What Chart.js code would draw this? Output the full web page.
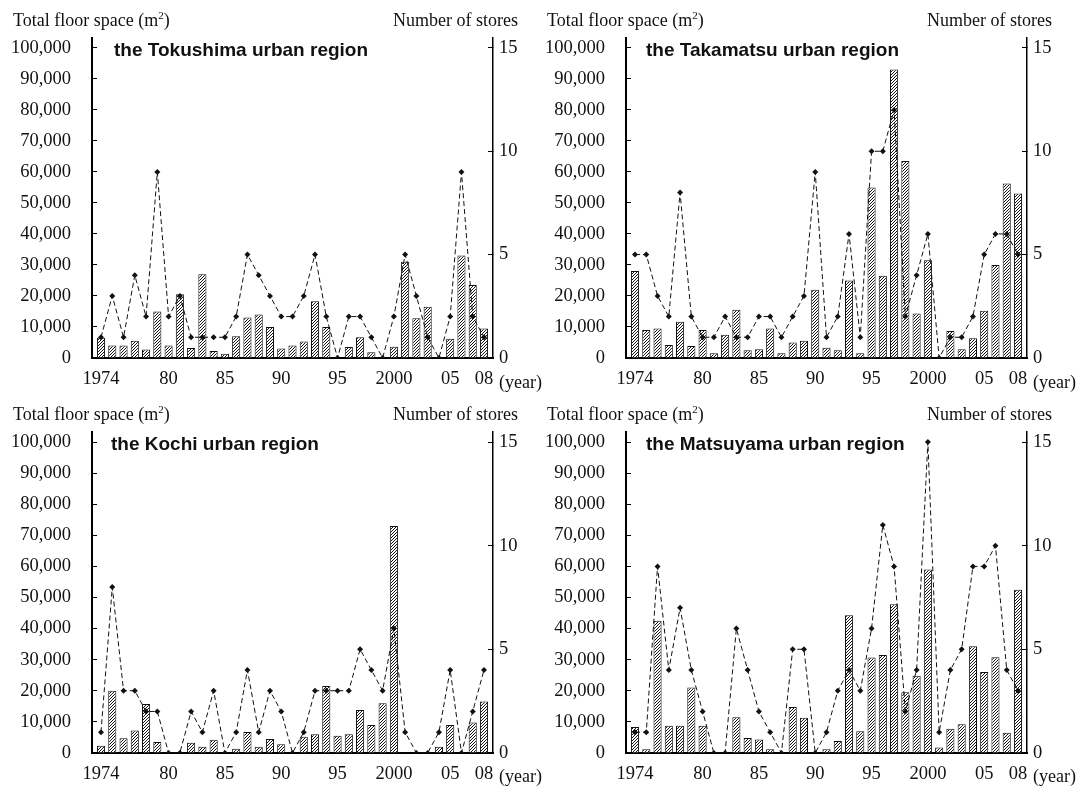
<!DOCTYPE html>
<html>
<head>
<meta charset="utf-8">
<script src="https://cdn.jsdelivr.net/npm/chart.js@4.4.1/dist/chart.umd.min.js"></script>
<style>
  html, body { margin: 0; padding: 0; background: #fff; }
  #wrap { position: relative; width: 1083px; height: 790px; overflow: hidden; }
  canvas { position: absolute; }
  .lbl { position: absolute; font-family: 'Liberation Serif', 'Times New Roman', serif; font-size: 18px; line-height: 1; color: #111; white-space: nowrap; }
  .ttl { position: absolute; font-family: 'Liberation Sans', Arial, sans-serif; font-weight: bold; font-size: 19px; line-height: 1; color: #111; white-space: nowrap; }
  .lbl sup { font-size: 11px; line-height: 0; vertical-align: 7px; }
</style>
</head>
<body>
<div id="wrap">
  <canvas id="c1" width="540" height="395" style="left:0;top:0"></canvas>
  <canvas id="c2" width="543" height="395" style="left:540px;top:0"></canvas>
  <canvas id="c3" width="540" height="395" style="left:0;top:395px"></canvas>
  <canvas id="c4" width="543" height="395" style="left:540px;top:395px"></canvas>

  <div class="lbl" style="left:13px;top:11px">Total floor space (m<sup>2</sup>)</div>
  <div class="lbl" style="right:565px;top:11px">Number of stores</div>
  <div class="ttl" style="left:114px;top:40px">the Tokushima urban region</div>
  <div class="lbl" style="left:499px;top:373px">(year)</div>

  <div class="lbl" style="left:547px;top:11px">Total floor space (m<sup>2</sup>)</div>
  <div class="lbl" style="right:31px;top:11px">Number of stores</div>
  <div class="ttl" style="left:646px;top:40px">the Takamatsu urban region</div>
  <div class="lbl" style="left:1033px;top:373px">(year)</div>

  <div class="lbl" style="left:13px;top:405px">Total floor space (m<sup>2</sup>)</div>
  <div class="lbl" style="right:565px;top:405px">Number of stores</div>
  <div class="ttl" style="left:111px;top:434px">the Kochi urban region</div>
  <div class="lbl" style="left:499px;top:767px">(year)</div>

  <div class="lbl" style="left:547px;top:405px">Total floor space (m<sup>2</sup>)</div>
  <div class="lbl" style="right:31px;top:405px">Number of stores</div>
  <div class="ttl" style="left:646px;top:434px">the Matsuyama urban region</div>
  <div class="lbl" style="left:1033px;top:767px">(year)</div>
</div>
<script>
/* ----- data ----- */
const years = [1974, 1975, 1976, 1977, 1978, 1979, 1980, 1981, 1982, 1983,
               1984, 1985, 1986, 1987, 1988, 1989, 1990, 1991, 1992, 1993,
               1994, 1995, 1996, 1997, 1998, 1999, 2000, 2001, 2002, 2003,
               2004, 2005, 2006, 2007, 2008];
const xTickYears = [1974, 1980, 1985, 1990, 1995, 2000, 2005, 2008];
const xTickLabels = ['1974', '80', '85', '90', '95', '2000', '05', '08'];
const floorTicks = [0, 10000, 20000, 30000, 40000, 50000, 60000, 70000, 80000, 90000, 100000];
const storeTicks = [0, 5, 10, 15];

// total floor space (m2)
const tokushimaFloor = [6500, 4000, 4000, 5500, 2700, 15000, 4000, 20500, 3200, 27000,
                        2200, 1300, 7000, 13000, 14000, 10000, 3000, 4000, 5300, 18300,
                        10000, 0, 3500, 6700, 1800, 0, 3600, 31000, 12800, 16500,
                        0, 6200, 33000, 23500, 9500];
const takamatsuFloor = [28000, 9000, 9500, 4200, 11700, 3800, 9000, 1500, 7500, 15500,
                        2500, 2800, 9500, 1500, 5000, 5500, 22000, 3300, 2500, 25000,
                        1500, 55000, 26500, 93000, 63500, 14300, 31500, 0, 8700, 2800,
                        6300, 15200, 30000, 56300, 53000];
const kochiFloor = [2300, 20000, 4700, 7200, 15700, 3500, 0, 0, 3300, 2000,
                    4200, 0, 1300, 6700, 2000, 4500, 2800, 0, 5200, 6000,
                    21500, 5500, 6000, 13800, 9000, 16000, 73000, 0, 0, 0,
                    2000, 9000, 0, 9800, 16500];
const matsuyamaFloor = [8300, 1200, 42500, 8700, 8700, 21000, 8700, 0, 0, 11500,
                        4800, 4300, 1200, 0, 14800, 11300, 0, 1200, 3800, 44300,
                        7000, 30700, 31500, 47800, 19500, 24800, 59000, 1700, 7800, 9200,
                        34300, 26000, 30800, 6500, 52500];

// number of stores
const tokushimaStores = [1, 3, 1, 4, 2, 9, 2, 3, 1, 1, 1, 1, 2, 5, 4, 3, 2, 2, 3, 5,
                         2, 0, 2, 2, 1, 0, 2, 5, 3, 1, 0, 2, 9, 2, 1];
const takamatsuStores = [5, 5, 3, 2, 8, 2, 1, 1, 2, 1, 1, 2, 2, 1, 2, 3, 9, 1, 2, 6,
                         1, 10, 10, 12, 2, 4, 6, 0, 1, 1, 2, 5, 6, 6, 5];
const kochiStores = [1, 8, 3, 3, 2, 2, 0, 0, 2, 1, 3, 0, 1, 4, 1, 3, 2, 0, 1, 3,
                     3, 3, 3, 5, 4, 3, 6, 1, 0, 0, 1, 4, 0, 2, 4];
const matsuyamaStores = [1, 1, 9, 4, 7, 4, 2, 0, 0, 6, 4, 2, 1, 0, 5, 5, 0, 1, 3, 4,
                         3, 6, 11, 9, 2, 4, 15, 1, 4, 5, 9, 9, 10, 4, 3];

/* ----- hatch fill for the bars ----- */
function hatchPattern() {
  const c = document.createElement('canvas');
  c.width = 3; c.height = 3;
  const g = c.getContext('2d');
  const img = g.createImageData(3, 3);
  for (let y = 0; y < 3; y++) {
    for (let x = 0; x < 3; x++) {
      const v = (x + y) % 3 === 2 ? 20 : 255;
      const k = (y * 3 + x) * 4;
      img.data[k] = img.data[k + 1] = img.data[k + 2] = v;
      img.data[k + 3] = 255;
    }
  }
  g.putImageData(img, 0, 0);
  return g.createPattern(c, 'repeat');
}

const serif = { family: "'Liberation Serif', 'Times New Roman', serif", size: 18.5 };

function makeChart(id, floor, stores, box) {
  const ctx = document.getElementById(id);
  return new Chart(ctx, {
    type: 'bar',
    data: {
      datasets: [
        {
          type: 'line',
          data: years.map((x, i) => ({ x, y: stores[i] })),
          yAxisID: 'y1',
          borderColor: '#111',
          borderWidth: 1,
          borderDash: [5, 3],
          pointStyle: 'rectRot',
          pointRadius: 3,
          pointBackgroundColor: '#111',
          pointBorderWidth: 0,
          tension: 0,
          order: 1
        },
        {
          type: 'bar',
          data: years.map((x, i) => ({ x, y: floor[i] })),
          yAxisID: 'y',
          backgroundColor: hatchPattern(),
          borderColor: '#111',
          borderWidth: 1,
          barPercentage: 0.72,
          categoryPercentage: 1,
          order: 2
        }
      ]
    },
    options: {
      responsive: false,
      animation: false,
      layout: { padding: { top: box.padTop, left: 0, right: 0, bottom: 0 } },
      plugins: { legend: { display: false }, tooltip: { enabled: false } },
      scales: {
        x: {
          type: 'linear',
          min: 1973.2,
          max: 2008.8,
          offset: false,
          grid: { display: false, drawTicks: false, offset: false },
          border: { display: true, color: '#000', width: 2 },
          afterBuildTicks: s => { s.ticks = xTickYears.map(v => ({ value: v })); },
          ticks: {
            autoSkip: false, maxRotation: 0, padding: 10,
            font: serif, color: '#111',
            callback: (v, i) => xTickLabels[i]
          },
          afterFit: s => { s.height = box.xH; }
        },
        y: {
          position: 'left',
          min: 0,
          max: 103200,
          afterBuildTicks: s => { s.ticks = floorTicks.map(v => ({ value: v })); },
          ticks: {
            padding: 26, font: serif, color: '#111',
            callback: v => v.toLocaleString('en-US')
          },
          grid: { drawOnChartArea: false, drawTicks: true, tickLength: -5, color: '#000', lineWidth: 1 },
          border: { display: true, color: '#000', width: 2 },
          afterFit: s => { s.width = box.leftW; }
        },
        y1: {
          position: 'right',
          min: 0,
          max: 15.48,
          afterBuildTicks: s => { s.ticks = storeTicks.map(v => ({ value: v })); },
          ticks: { padding: 11, font: serif, color: '#111' },
          grid: { drawOnChartArea: false, drawTicks: true, tickLength: -5, color: '#000', lineWidth: 1 },
          border: { display: true, color: '#000', width: 1.5 },
          afterFit: s => { s.width = box.rightW; }
        }
      }
    }
  });
}

makeChart('c1', tokushimaFloor, tokushimaStores, { leftW: 92, rightW: 47, padTop: 38, xH: 35 });
makeChart('c2', takamatsuFloor, takamatsuStores, { leftW: 86, rightW: 56, padTop: 38, xH: 35 });
makeChart('c3', kochiFloor, kochiStores, { leftW: 92, rightW: 47, padTop: 37, xH: 37 });
makeChart('c4', matsuyamaFloor, matsuyamaStores, { leftW: 86, rightW: 56, padTop: 37, xH: 37 });
</script>
</body>
</html>
